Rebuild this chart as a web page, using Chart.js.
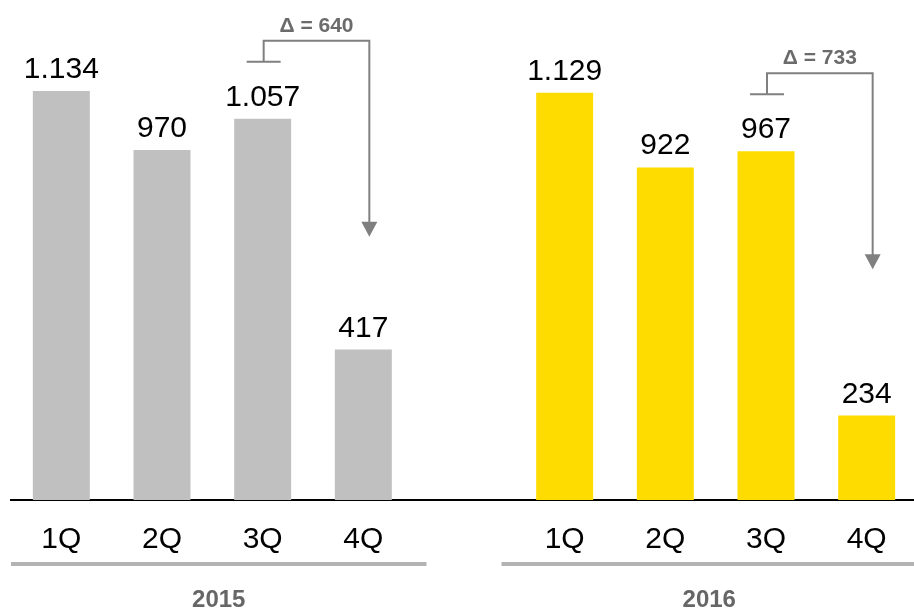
<!DOCTYPE html>
<html>
<head>
<meta charset="utf-8">
<script src="https://cdn.jsdelivr.net/npm/chart.js@4.4.1/dist/chart.umd.min.js"></script>
<style>
  html, body { margin: 0; padding: 0; background: #ffffff; overflow: hidden; }
  #wrap { position: absolute; left: 0; top: 0; width: 920px; height: 610px; }
</style>
</head>
<body>
<div id="wrap"><canvas id="chart"></canvas></div>
<script>
// Quarterly values per year
const quarters = ['1Q', '2Q', '3Q', '4Q'];
const years = ['2015', '2016'];
const values2015 = [1134, 970, 1057, 417];
const values2016 = [1129, 922, 967, 234];
const yearColors = ['#c0c0c0', '#ffdc00'];

// One category axis: the two years side by side, with an empty slot between them
const labels = [...quarters, '', ...quarters];
const values = [...values2015, null, ...values2016];
const colors = [...quarters.map(() => yearColors[0]), 'transparent', ...quarters.map(() => yearColors[1])];

const FONT = '"Liberation Sans", Arial, sans-serif';
const fmt = v => v.toLocaleString('de-DE');

const annotations = {
  id: 'annotations',
  afterDatasetsDraw(chart) {
    const ctx = chart.ctx;
    const xs = chart.scales.x;
    const ys = chart.scales.y;
    const area = chart.chartArea;
    const meta = chart.getDatasetMeta(0);

    ctx.save();

    // value labels above the bars
    ctx.fillStyle = '#000000';
    ctx.font = '30px ' + FONT;
    ctx.textAlign = 'center';
    ctx.textBaseline = 'alphabetic';
    meta.data.forEach((bar, i) => {
      if (values[i] == null) return;
      ctx.fillText(fmt(values[i]), bar.x, bar.y - 13);
    });

    // year brackets below the quarter labels
    const gapX = xs.getPixelForValue(4);
    const spans = [[area.left, gapX - 37.5], [gapX + 37.5, area.right]];
    ctx.strokeStyle = '#b3b3b3';
    ctx.lineWidth = 4;
    ctx.font = 'bold 24px ' + FONT;
    ctx.fillStyle = '#666666';
    spans.forEach(([a, b], k) => {
      ctx.beginPath();
      ctx.moveTo(a, 564);
      ctx.lineTo(b, 564);
      ctx.stroke();
      ctx.fillText(years[k], (a + b) / 2, 607);
    });

    // 3Q -> 4Q drop connectors
    const groups = [[values2015, 0], [values2016, 5]];
    groups.forEach(([vals, start]) => {
      const q3 = vals[2], q4 = vals[3];
      const x3 = xs.getPixelForValue(start + 2) + 1;
      const x4 = xs.getPixelForValue(start + 3) + 6;
      const tickY = ys.getPixelForValue(q3) - 57;
      const topY = tickY - 21;
      const tipY = tickY + 175;

      ctx.strokeStyle = '#808080';
      ctx.fillStyle = '#808080';
      ctx.lineWidth = 2;
      ctx.beginPath();
      ctx.moveTo(x3 - 17, tickY);
      ctx.lineTo(x3 + 17, tickY);
      ctx.moveTo(x3, tickY);
      ctx.lineTo(x3, topY);
      ctx.lineTo(x4, topY);
      ctx.lineTo(x4, tipY - 14);
      ctx.stroke();
      ctx.beginPath();
      ctx.moveTo(x4 - 8, tipY - 15);
      ctx.lineTo(x4 + 8, tipY - 15);
      ctx.lineTo(x4, tipY);
      ctx.closePath();
      ctx.fill();

      ctx.fillStyle = '#6b6b6b';
      ctx.font = 'bold 21px ' + FONT;
      ctx.fillText('\u0394 = ' + fmt(q3 - q4), (x3 + x4) / 2, topY - 9);
    });

    ctx.restore();
  }
};

new Chart(document.getElementById('chart'), {
  type: 'bar',
  data: {
    labels: labels,
    datasets: [{
      data: values,
      backgroundColor: colors,
      borderWidth: 0,
      barPercentage: 0.566,
      categoryPercentage: 1
    }]
  },
  options: {
    responsive: true,
    maintainAspectRatio: false,
    animation: false,
    events: [],
    layout: { padding: { left: 11, right: 3, top: 0, bottom: 0 } },
    plugins: {
      legend: { display: false },
      tooltip: { enabled: false },
      title: { display: false }
    },
    scales: {
      y: {
        display: false,
        min: 0,
        max: 1386
      },
      x: {
        afterFit(scale) { scale.height = 110; },
        grid: { display: false, drawTicks: false },
        border: { display: true, color: '#000000', width: 2 },
        ticks: {
          color: '#000000',
          padding: 22,
          font: { family: FONT, size: 30 }
        }
      }
    }
  },
  plugins: [annotations]
});
</script>
</body>
</html>
